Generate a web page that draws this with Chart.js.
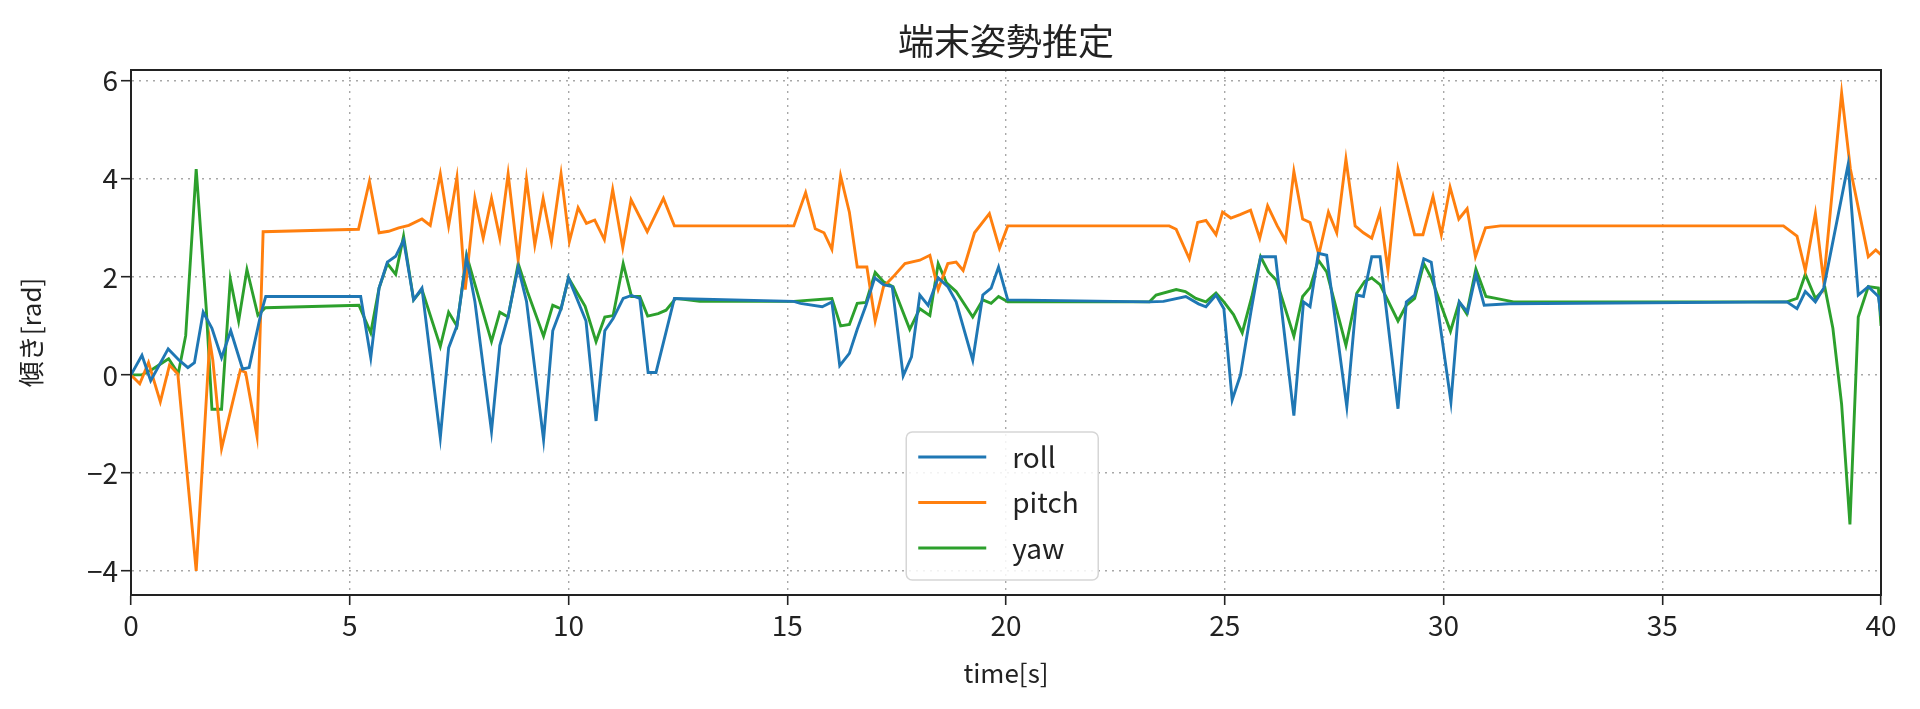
<!DOCTYPE html>
<html>
<head>
<meta charset="utf-8">
<script src="https://cdn.jsdelivr.net/npm/chart.js@4/dist/chart.umd.min.js"></script>
<style>
html,body{margin:0;padding:0;background:#ffffff;}
#wrap{width:1920px;height:709px;position:relative;}
</style>
</head>
<body>
<div id="wrap"><canvas id="c" width="1920" height="709"></canvas></div>
<script>
// ---- text ----
const chartTitle = '端末姿勢推定';
const xLabel = 'time[s]';
const yLabel = '傾き[rad]';
const seriesNames = ['roll', 'pitch', 'yaw'];
const seriesColors = ['#1f77b4', '#ff7f0e', '#2ca02c'];

// ---- tick labels ----
const xTicks = [0, 5, 10, 15, 20, 25, 30, 35, 40];
const yTicks = [-4, -2, 0, 2, 4, 6];
const xRange = [0, 40];
const yRange = [-4.49, 6.22];

// ---- series values: [time s, angle rad] ----
const roll = [[0,0],[0.25,0.4],[0.45,-0.12],[0.85,0.53],[1.1,0.3],[1.3,0.15],[1.45,0.25],[1.65,1.28],[1.85,0.95],[2.07,0.35],[2.28,0.9],[2.55,0.12],[2.7,0.15],[2.97,1.25],[3.08,1.6],
[5.25,1.6],[5.48,0.35],[5.67,1.77],[5.86,2.3],[6.05,2.42],[6.23,2.75],[6.46,1.53],[6.65,1.77],[7.07,-1.28],[7.26,0.55],[7.45,1.0],[7.67,2.4],[7.86,1.5],[8.24,-1.15],[8.43,0.6],[8.62,1.2],[8.85,2.2],[9.04,1.5],[9.43,-1.32],[9.64,0.9],[9.83,1.35],[10.0,1.98],[10.4,1.1],[10.63,-0.94],[10.83,0.9],[11.02,1.15],[11.25,1.56],[11.44,1.62],[11.63,1.56],[11.82,0.05],[12.0,0.05],[12.42,1.56],
[15.15,1.5],[15.3,1.46],[15.8,1.39],[16.02,1.49],[16.2,0.19],[16.42,0.44],[16.6,0.93],[16.8,1.42],[17.0,1.98],[17.2,1.84],[17.4,1.8],[17.65,-0.02],[17.84,0.37],[18.03,1.63],[18.22,1.42],[18.45,1.98],[18.67,1.8],[18.86,1.49],[19.24,0.3],[19.47,1.63],[19.66,1.77],[19.83,2.2],[20.04,1.53],
[23.28,1.49],[23.6,1.5],[24.11,1.6],[24.4,1.45],[24.57,1.39],[24.8,1.63],[24.98,1.35],[25.17,-0.51],[25.36,0.0],[25.6,1.3],[25.82,2.41],[26.16,2.41],[26.58,-0.83],[26.8,1.49],[26.95,1.39],[27.14,2.48],[27.33,2.44],[27.79,-0.65],[28.02,1.63],[28.17,1.6],[28.36,2.41],[28.55,2.41],[28.96,-0.69],[29.15,1.49],[29.34,1.63],[29.55,2.37],[29.72,2.3],[30.17,-0.55],[30.36,1.49],[30.55,1.28],[30.74,2.05],[30.93,1.42],[31.5,1.45],
[37.85,1.49],[38.08,1.35],[38.27,1.7],[38.5,1.49],[38.69,1.77],[39.25,4.3],[39.48,1.63],[39.71,1.8],[39.94,1.6],[40,1.2]];

const pitch = [[0,0],[0.2,-0.18],[0.4,0.25],[0.67,-0.55],[0.88,0.2],[1.07,0.02],[1.49,-4.0],[1.8,0.7],[1.87,0.3],[2.07,-1.5],[2.5,0.1],[2.62,0.05],[2.88,-1.25],[3.02,2.92],
[5.2,2.97],[5.45,3.95],[5.67,2.9],[5.89,2.93],[6.12,3.0],[6.35,3.05],[6.65,3.18],[6.84,3.05],[7.07,4.1],[7.26,3.04],[7.45,4.03],[7.64,1.74],[7.86,3.6],[8.05,2.79],[8.24,3.6],[8.43,2.79],[8.62,4.1],[8.85,2.34],[9.04,3.99],[9.23,2.65],[9.42,3.6],[9.61,2.72],[9.83,4.1],[10.02,2.72],[10.22,3.41],[10.41,3.09],[10.6,3.16],[10.82,2.76],[11.01,3.78],[11.24,2.6],[11.43,3.57],[11.8,2.92],[12.17,3.6],[12.42,3.04],
[15.15,3.04],[15.42,3.72],[15.64,2.98],[15.84,2.9],[16.02,2.56],[16.22,4.06],[16.42,3.32],[16.6,2.2],[16.82,2.2],[17.01,1.1],[17.2,1.8],[17.42,2.0],[17.69,2.27],[18.03,2.34],[18.26,2.44],[18.45,1.74],[18.67,2.27],[18.86,2.3],[19.02,2.13],[19.28,2.9],[19.62,3.29],[19.85,2.58],[20.04,3.04],
[23.73,3.04],[23.89,2.97],[24.19,2.37],[24.38,3.11],[24.57,3.15],[24.8,2.86],[24.95,3.32],[25.14,3.2],[25.35,3.27],[25.59,3.36],[25.8,2.79],[25.98,3.45],[26.2,3.04],[26.39,2.74],[26.58,4.15],[26.78,3.18],[26.95,3.11],[27.15,2.45],[27.37,3.32],[27.56,2.9],[27.77,4.4],[27.98,3.04],[28.17,2.9],[28.36,2.79],[28.55,3.32],[28.73,2.13],[28.96,4.2],[29.15,3.53],[29.34,2.86],[29.53,2.86],[29.76,3.64],[29.95,2.86],[30.15,3.83],[30.35,3.18],[30.54,3.39],[30.73,2.41],[30.96,3.0],[31.3,3.04],
[37.77,3.04],[38.08,2.83],[38.27,2.13],[38.5,3.29],[38.69,1.91],[39.1,5.75],[39.3,4.2],[39.71,2.41],[39.88,2.55],[40,2.45]];

const yaw = [[0,0],[0.25,0.0],[0.5,0.12],[0.86,0.33],[1.08,0.03],[1.25,0.8],[1.49,4.2],[1.72,1.35],[1.85,-0.7],[2.07,-0.7],[2.27,1.95],[2.46,1.1],[2.65,2.15],[2.9,1.22],[3.07,1.37],
[5.21,1.42],[5.48,0.86],[5.67,1.77],[5.86,2.27],[6.05,2.05],[6.23,2.83],[6.46,1.53],[6.65,1.74],[7.07,0.58],[7.26,1.28],[7.45,1.0],[7.67,2.44],[7.86,1.85],[8.24,0.68],[8.43,1.28],[8.62,1.18],[8.85,2.27],[9.06,1.7],[9.43,0.79],[9.64,1.42],[9.83,1.35],[10.0,1.98],[10.38,1.4],[10.63,0.68],[10.83,1.18],[11.02,1.21],[11.25,2.27],[11.44,1.6],[11.63,1.6],[11.81,1.2],[12.05,1.25],[12.23,1.32],[12.45,1.56],[13.0,1.5],
[15.15,1.5],[16.02,1.56],[16.22,1.0],[16.42,1.03],[16.6,1.46],[16.8,1.48],[17.01,2.09],[17.2,1.9],[17.42,1.8],[17.8,0.93],[18.03,1.35],[18.26,1.21],[18.45,2.27],[18.64,1.88],[18.86,1.7],[19.24,1.18],[19.47,1.53],[19.66,1.46],[19.83,1.6],[20.04,1.49],
[23.28,1.49],[23.43,1.63],[23.89,1.74],[24.1,1.7],[24.34,1.56],[24.57,1.49],[24.8,1.67],[24.98,1.49],[25.2,1.23],[25.4,0.86],[25.62,1.6],[25.82,2.41],[26.0,2.1],[26.18,1.93],[26.58,0.79],[26.78,1.6],[26.95,1.78],[27.14,2.34],[27.33,2.1],[27.77,0.6],[28.02,1.67],[28.2,1.91],[28.36,1.98],[28.55,1.84],[28.96,1.1],[29.15,1.42],[29.34,1.56],[29.55,2.27],[29.72,1.98],[30.16,0.89],[30.36,1.49],[30.53,1.25],[30.74,2.16],[30.97,1.6],[31.2,1.56],[31.6,1.49],
[37.85,1.49],[38.08,1.56],[38.27,2.05],[38.5,1.56],[38.72,1.77],[38.9,0.95],[39.1,-0.6],[39.29,-3.05],[39.48,1.18],[39.71,1.8],[39.94,1.77],[40,1.0]];

const seriesData = [roll, pitch, yaw];

// ---- styling ----
const FONT = '"Noto Sans CJK JP", "Noto Sans", "DejaVu Sans", sans-serif';
const TXT = '#222222';

const fmtTick = v => (v < 0 ? '\u2212' + Math.abs(v) : String(v));

const framePlugin = {
  id: 'frame',
  afterDraw(chart) {
    const {ctx, chartArea: a} = chart;
    ctx.save();
    ctx.strokeStyle = '#222222';
    ctx.lineWidth = 2;
    ctx.strokeRect(a.left, a.top, a.right - a.left, a.bottom - a.top);
    // title
    ctx.fillStyle = TXT;
    ctx.font = '36px ' + FONT;
    ctx.textAlign = 'center';
    ctx.textBaseline = 'middle';
    ctx.fillText(chartTitle, (a.left + a.right) / 2, 41);
    // legend box
    const w = a.right - a.left;
    const bx = a.left + 0.443 * w, bw = 192, bh = 148;
    const by = a.bottom - 15 - bh;
    const r = 6;
    ctx.beginPath();
    ctx.moveTo(bx + r, by);
    ctx.arcTo(bx + bw, by, bx + bw, by + bh, r);
    ctx.arcTo(bx + bw, by + bh, bx, by + bh, r);
    ctx.arcTo(bx, by + bh, bx, by, r);
    ctx.arcTo(bx, by, bx + bw, by, r);
    ctx.closePath();
    ctx.fillStyle = 'rgba(255,255,255,0.85)';
    ctx.fill();
    ctx.strokeStyle = '#d6d6d6';
    ctx.lineWidth = 1.5;
    ctx.stroke();
    ctx.font = '28px ' + FONT;
    ctx.textAlign = 'left';
    seriesNames.forEach((n, i) => {
      const yy = by + 25 + i * 45.5;
      ctx.strokeStyle = seriesColors[i];
      ctx.lineWidth = 2.8;
      ctx.beginPath();
      ctx.moveTo(bx + 12, yy);
      ctx.lineTo(bx + 80, yy);
      ctx.stroke();
      ctx.fillStyle = TXT;
      ctx.fillText(n, bx + 106, yy);
    });
    ctx.restore();
  }
};

new Chart(document.getElementById('c'), {
  type: 'line',
  data: {
    datasets: seriesNames.map((n, i) => ({
      label: n,
      data: seriesData[i].map(p => ({x: p[0], y: p[1]})),
      borderColor: seriesColors[i],
      backgroundColor: seriesColors[i],
      borderWidth: 2.9,
      pointRadius: 0,
      tension: 0,
      fill: false
    }))
  },
  options: {
    responsive: false,
    animation: false,
    devicePixelRatio: 1,
    layout: {padding: {top: 70, right: 39, bottom: 0, left: 0}},
    plugins: {legend: {display: false}, title: {display: false}, tooltip: {enabled: false}},
    scales: {
      x: {
        type: 'linear',
        min: xRange[0], max: xRange[1],
        afterBuildTicks: s => { s.ticks = xTicks.map(v => ({value: v})); },
        afterFit: s => { s.height = 114; },
        ticks: {color: TXT, font: {family: FONT, size: 28}, padding: 4, callback: fmtTick, maxRotation: 0, autoSkip: false},
        grid: {color: '#a8a8a8', lineWidth: 1.4, drawTicks: true, tickLength: 10, tickColor: '#222222', tickWidth: 1.6},
        border: {display: true, color: '#222222', width: 2, dash: [2, 5]},
        title: {display: true, text: xLabel, color: TXT, font: {family: FONT, size: 26}, padding: {top: 0, bottom: 20}}
      },
      y: {
        type: 'linear',
        min: yRange[0], max: yRange[1],
        afterBuildTicks: s => { s.ticks = yTicks.map(v => ({value: v})); },
        afterFit: s => { s.width = 131; },
        ticks: {color: TXT, font: {family: FONT, size: 28}, padding: 3, callback: fmtTick, autoSkip: false},
        grid: {color: '#a8a8a8', lineWidth: 1.4, drawTicks: true, tickLength: 10, tickColor: '#222222', tickWidth: 1.6},
        border: {display: true, color: '#222222', width: 2, dash: [2, 5]},
        title: {display: true, text: yLabel, color: TXT, font: {family: FONT, size: 26}, padding: {top: 16, bottom: 0}}
      }
    }
  },
  plugins: [framePlugin]
});
</script>
</body>
</html>
